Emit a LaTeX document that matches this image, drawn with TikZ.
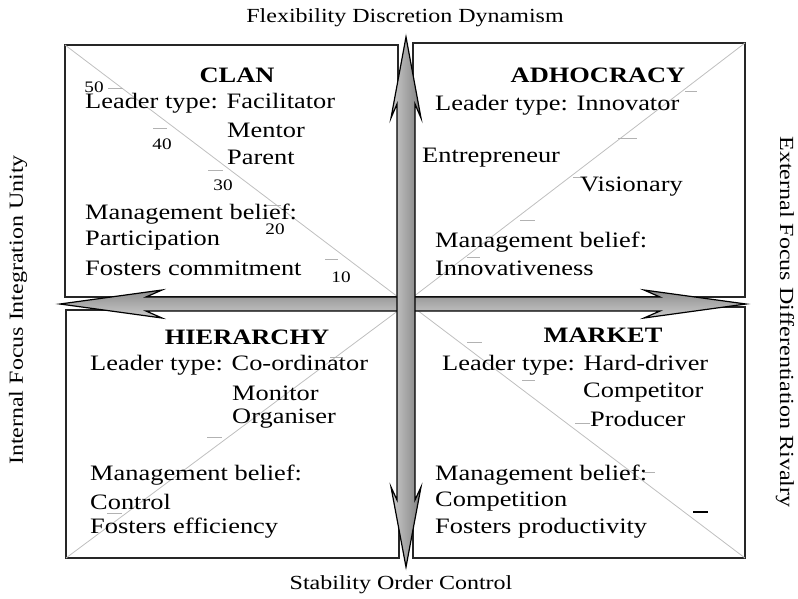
\documentclass[tikz,border=0pt]{standalone}
\usepackage{fontspec}
\setmainfont[FakeStretch=1.2]{Liberation Serif}

\begin{document}
\begin{tikzpicture}[x=1pt, y=-1pt,
    quadbox/.style={line width=1.8pt, draw=black!85},
    diag/.style={line width=0.8pt, color=black!25},
    tickmark/.style={line width=0.9pt, color=black!30},
    body/.style={anchor=west, inner sep=0pt, font=\fontsize{22}{26}\selectfont},
    quadtitle/.style={inner sep=0pt, font=\fontsize{22}{26}\selectfont\bfseries},
    scalenum/.style={inner sep=0pt, font=\fontsize{16}{18}\selectfont},
    axislabel/.style={inner sep=0pt, font=\fontsize{20}{24}\selectfont},
    bigarrow/.style={draw=black, line width=1.2pt, line join=miter}]
			%%%%% START %%%%%
			\useasboundingbox (0,0) rectangle (798,598);
			
			% the four quadrants
			\draw[quadbox] (65, 45) rectangle (398, 297);
			\draw[quadbox] (413, 43) rectangle (745, 297);
			\draw[quadbox] (66, 310) rectangle (399, 558);
			\draw[quadbox] (413, 307) rectangle (745, 558);
			
			% diagonals
			\draw[diag] (65, 45) -- (398, 297);
			\draw[diag] (413, 297) -- (745, 43);
			\draw[diag] (66, 558) -- (399, 310);
			\draw[diag] (413, 307) -- (745, 558);
			
			% scale on the clan diagonal
			\draw[tickmark] (108, 88) -- (123, 88);
			\draw[tickmark] (153, 128) -- (167, 128);
			\draw[tickmark] (208, 170) -- (223, 170);
			\draw[tickmark] (267, 205) -- (281, 205);
			\draw[tickmark] (325, 259) -- (338, 259);
			\node[scalenum] (s50) at (94, 87) {50};
			\node[scalenum] (s40) at (162, 144) {40};
			\node[scalenum] (s30) at (223, 185) {30};
			\node[scalenum] (s20) at (275, 229) {20};
			\node[scalenum] (s10) at (341, 277) {10};
			
			% ticks on the other diagonals
			\draw[tickmark] (685, 91) -- (697, 91);
			\draw[tickmark] (618, 138) -- (637, 138);
			\draw[tickmark] (573, 177) -- (587, 177);
			\draw[tickmark] (520, 220) -- (535, 220);
			\draw[tickmark] (467, 257) -- (480, 257);
			
			\draw[tickmark] (467, 342) -- (482, 342);
			\draw[tickmark] (522, 380) -- (535, 380);
			\draw[tickmark] (575, 423) -- (590, 423);
			\draw[tickmark] (643, 472) -- (655, 472);
			\draw[line width=1.2pt] (693, 512) -- (708, 512);
			
			\draw[tickmark] (330, 357) -- (343, 357);
			\draw[tickmark] (207, 437) -- (222, 437);
			\draw[tickmark] (107, 513) -- (122, 513);
			
			% clan
			\node[quadtitle] (clan) at (237, 75) {CLAN};
			\node[body] (clanlead) at (85, 103) {Leader type: Facilitator};
			\node[body] (clanmentor) at (227, 130) {Mentor};
			\node[body] (clanparent) at (227, 157) {Parent};
			\node[body] (clanbelief) at (85, 214) {Management belief:};
			\node[body] (clanpart) at (85, 241) {Participation};
			\node[body] (clanfost) at (85, 268) {Fosters commitment};
			
			% adhocracy
			\node[quadtitle] (adho) at (598, 75) {ADHOCRACY};
			\node[body] (adholead) at (435, 105) {Leader type: Innovator};
			\node[body] (adhoentr) at (422, 158) {Entrepreneur};
			\node[body] (adhovis) at (580, 187) {Visionary};
			\node[body] (adhobelief) at (435, 242) {Management belief:};
			\node[body] (adhoinno) at (435, 268) {Innovativeness};
			
			% hierarchy
			\node[quadtitle] (hier) at (247, 337) {HIERARCHY};
			\node[body] (hierlead) at (90, 365) {Leader type: Co-ordinator};
			\node[body] (hiermon) at (232, 393) {Monitor};
			\node[body] (hierorg) at (232, 419) {Organiser};
			\node[body] (hierbelief) at (90, 475) {Management belief:};
			\node[body] (hierctrl) at (90, 502) {Control};
			\node[body] (hierfost) at (90, 528) {Fosters efficiency};
			
			% market
			\node[quadtitle] (mark) at (603, 335) {MARKET};
			\node[body] (marklead) at (442, 365) {Leader type: Hard-driver};
			\node[body] (markcomp) at (583, 393) {Competitor};
			\node[body] (markprod) at (590, 419) {Producer};
			\node[body] (markbelief) at (435, 475) {Management belief:};
			\node[body] (markcompet) at (435, 502) {Competition};
			\node[body] (markfost) at (435, 528) {Fosters productivity};
			
			% horizontal double arrow
			\draw[bigarrow, top color=black!45, bottom color=black!20]
			  (60, 304) -- (162, 290) -- (146, 297) -- (660, 297) -- (644, 290)
			  -- (746, 304) -- (644, 318) -- (660, 311) -- (146, 311) -- (162, 318) -- cycle;
			
			% vertical double arrow
			\draw[bigarrow, left color=black!20, right color=black!50]
			  (406, 37) -- (421, 118) -- (415, 104) -- (415, 500) -- (421, 487)
			  -- (406, 567) -- (391, 487) -- (397, 500) -- (397, 104) -- (391, 118) -- cycle;
			
			% axes
			\node[axislabel] (flex) at (405, 18) {Flexibility Discretion Dynamism};
			\node[axislabel] (stab) at (401, 585) {Stability Order Control};
			\node[axislabel, rotate=90] (intern) at (18, 310) {Internal Focus Integration Unity};
			\node[axislabel, rotate=-90] (extern) at (785, 322) {External Focus Differentiation Rivalry};
			
			%%%%% END %%%%%
\end{tikzpicture}
\end{document}
